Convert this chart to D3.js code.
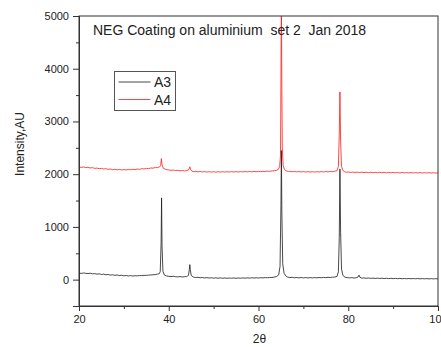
<!DOCTYPE html>
<html>
<head>
<meta charset="utf-8">
<script src="https://cdn.jsdelivr.net/npm/d3@7/dist/d3.min.js"></script>
<style>
  html, body { margin: 0; padding: 0; background: #fff; }
  svg { display: block; font-family: "Liberation Sans", Arial, sans-serif; }
</style>
</head>
<body>
<div id="chart"></div>
<script>
// --- Data (2θ in degrees, intensity in AU) ---

const seriesNames = ['A3', 'A4'];
const seriesColors = ['#1a1a1a', '#ff1a1a'];

const a3Points = [
  [20, 128], [20.5, 118], [21, 126], [21.5, 120], [22, 115], [22.5, 122], [23, 110], [23.5, 114],
  [24, 104], [24.5, 110], [25, 98], [25.5, 104], [26, 92], [26.5, 98], [27, 86], [27.5, 92],
  [28, 82], [28.5, 88], [29, 76], [29.5, 84], [30, 72], [30.5, 78], [31, 70], [31.5, 76],
  [32, 68], [32.5, 74], [33, 72], [33.5, 78], [34, 76], [34.5, 82], [35, 80], [35.5, 86],
  [36, 88], [36.5, 92], [37, 96], [37.5, 104], [37.9, 115], [38.1, 150], [38.3, 700], [38.4, 1550],
  [38.5, 650], [38.7, 160], [39, 90], [39.5, 70], [40, 62], [40.5, 58], [41, 64], [41.5, 56],
  [42, 52], [42.5, 58], [43, 50], [43.5, 56], [44, 58], [44.4, 80], [44.6, 200], [44.7, 285],
  [44.8, 190], [45, 80], [45.5, 48], [46, 40], [46.5, 44], [47, 36], [47.5, 40], [48, 32],
  [48.5, 38], [49, 30], [49.5, 36], [50, 28], [50.5, 34], [51, 27], [51.5, 33], [52, 26],
  [52.5, 32], [53, 25], [53.5, 31], [54, 26], [54.5, 32], [55, 25], [55.5, 31], [56, 27],
  [56.5, 33], [57, 28], [57.5, 34], [58, 29], [58.5, 35], [59, 30], [59.5, 36], [60, 31],
  [60.5, 37], [61, 33], [61.5, 39], [62, 36], [62.5, 42], [63, 40], [63.5, 48], [64, 58],
  [64.5, 90], [64.8, 250], [65.0, 1400], [65.1, 2450], [65.2, 1300], [65.4, 300], [65.7, 120], [66.2, 60],
  [66.5, 48], [67, 40], [67.5, 44], [68, 36], [68.5, 41], [69, 34], [69.5, 40], [70, 33],
  [70.5, 39], [71, 32], [71.5, 38], [72, 33], [72.5, 39], [73, 34], [73.5, 40], [74, 36],
  [74.5, 42], [75, 38], [75.5, 44], [76, 41], [76.5, 47], [77, 48], [77.5, 62], [77.8, 150],
  [78.0, 800], [78.15, 2100], [78.3, 900], [78.5, 200], [78.8, 80], [79.3, 45], [79.8, 38], [80.3, 33],
  [80.8, 38], [81.3, 31], [81.8, 36], [82.2, 52], [82.4, 85], [82.6, 46], [83, 28], [83.5, 33],
  [84, 26], [84.5, 31], [85, 24], [85.5, 29], [86, 23], [86.5, 28], [87, 22], [87.5, 27],
  [88, 21], [88.5, 26], [89, 20], [89.5, 25], [90, 19], [90.5, 24], [91, 18], [91.5, 23],
  [92, 17], [92.5, 22], [93, 17], [93.5, 22], [94, 16], [94.5, 21], [95, 16], [95.5, 21],
  [96, 15], [96.5, 20], [97, 15], [97.5, 20], [98, 14], [98.5, 19], [99, 14], [99.5, 18], [100, 14]
];

const a4Points = [
  [20, 2140], [20.5, 2128], [21, 2136], [21.5, 2125], [22, 2131], [22.5, 2118], [23, 2124], [23.5, 2110],
  [24, 2116], [24.5, 2104], [25, 2110], [25.5, 2098], [26, 2104], [26.5, 2092], [27, 2098], [27.5, 2086],
  [28, 2093], [28.5, 2082], [29, 2090], [29.5, 2080], [30, 2088], [30.5, 2080], [31, 2090], [31.5, 2082],
  [32, 2094], [32.5, 2086], [33, 2098], [33.5, 2092], [34, 2104], [34.5, 2098], [35, 2110], [35.5, 2104],
  [36, 2118], [36.5, 2114], [37, 2126], [37.5, 2124], [38, 2140], [38.2, 2160], [38.35, 2295], [38.5, 2180],
  [38.8, 2110], [39.2, 2096], [39.6, 2084], [40, 2080], [40.5, 2072], [41, 2078], [41.5, 2068], [42, 2074],
  [42.5, 2064], [43, 2070], [43.5, 2062], [44, 2068], [44.4, 2080], [44.6, 2115], [44.7, 2140], [44.85, 2090],
  [45.2, 2056], [45.6, 2048], [46, 2054], [46.5, 2044], [47, 2050], [47.5, 2042], [48, 2049], [48.5, 2040],
  [49, 2047], [49.5, 2040], [50, 2046], [50.5, 2039], [51, 2046], [51.5, 2040], [52, 2047], [52.5, 2040],
  [53, 2046], [53.5, 2041], [54, 2048], [54.5, 2041], [55, 2048], [55.5, 2042], [56, 2049], [56.5, 2043],
  [57, 2050], [57.5, 2044], [58, 2051], [58.5, 2045], [59, 2052], [59.5, 2046], [60, 2053], [60.5, 2048],
  [61, 2055], [61.5, 2050], [62, 2058], [62.5, 2054], [63, 2062], [63.5, 2064], [64, 2074], [64.4, 2090],
  [64.7, 2140], [64.9, 2350], [65.0, 3800], [65.1, 5400], [65.2, 3600], [65.3, 2500], [65.5, 2160], [65.8, 2090],
  [66.2, 2062], [66.7, 2050], [67, 2056], [67.5, 2046], [68, 2052], [68.5, 2043], [69, 2050], [69.5, 2042],
  [70, 2049], [70.5, 2041], [71, 2048], [71.5, 2040], [72, 2047], [72.5, 2040], [73, 2047], [73.5, 2041],
  [74, 2048], [74.5, 2042], [75, 2049], [75.5, 2044], [76, 2051], [76.5, 2048], [77, 2056], [77.5, 2066],
  [77.8, 2150], [78.0, 2750], [78.15, 3560], [78.3, 2620], [78.5, 2150], [78.8, 2070], [79.2, 2046], [79.6, 2036],
  [80, 2042], [80.5, 2033], [81, 2040], [81.5, 2032], [82, 2039], [82.5, 2031], [83, 2038], [83.5, 2030],
  [84, 2037], [84.5, 2029], [85, 2036], [85.5, 2028], [86, 2035], [86.5, 2027], [87, 2034], [87.5, 2027],
  [88, 2034], [88.5, 2026], [89, 2033], [89.5, 2026], [90, 2033], [90.5, 2025], [91, 2032], [91.5, 2025],
  [92, 2032], [92.5, 2024], [93, 2031], [93.5, 2024], [94, 2031], [94.5, 2023], [95, 2030], [95.5, 2023],
  [96, 2030], [96.5, 2022], [97, 2029], [97.5, 2022], [98, 2029], [98.5, 2021], [99, 2027], [99.5, 2021], [100, 2024]
];

const xTicks = [20, 40, 60, 80, 100];
const xMinorTicks = [30, 50, 70, 90];
const yTicks = [0, 1000, 2000, 3000, 4000, 5000];
const yMinorTicks = [-500, 500, 1500, 2500, 3500, 4500];

const titleText = 'NEG Coating on aluminium  set 2  Jan 2018';
const xLabel = '2θ';
const yLabel = 'Intensity,AU';

// --- Layout ---

const W = 441, H = 347;
const margin = { top: 16, right: 3, bottom: 41, left: 79 };
const innerW = W - margin.left - margin.right;
const innerH = H - margin.top - margin.bottom;

const svg = d3.select('#chart').append('svg')
  .attr('width', W)
  .attr('height', H)
  .attr('viewBox', `0 0 ${W} ${H}`);

const x = d3.scaleLinear().domain([20, 100]).range([0, innerW]);
const y = d3.scaleLinear().domain([-500, 5000]).range([innerH, 0]);

const g = svg.append('g').attr('transform', `translate(${margin.left},${margin.top})`);

g.append('defs').append('clipPath').attr('id', 'plot-clip')
  .append('rect').attr('width', innerW).attr('height', innerH);

// Series
const line = d3.line().x(d => x(d[0])).y(d => y(d[1]));
const lines = g.append('g').attr('clip-path', 'url(#plot-clip)');
[a3Points, a4Points].forEach((pts, i) => {
  lines.append('path')
    .datum(pts)
    .attr('fill', 'none')
    .attr('stroke', seriesColors[i])
    .attr('stroke-width', 0.8)
    .attr('stroke-linejoin', 'round')
    .attr('d', line);
});

// Frame
g.append('rect')
  .attr('width', innerW).attr('height', innerH)
  .attr('fill', 'none').attr('stroke', '#333').attr('stroke-width', 1);

// Axes
const styleAxis = sel => {
  sel.select('.domain').attr('stroke', '#333');
  sel.selectAll('.tick line').attr('stroke', '#333');
  sel.selectAll('.tick text').attr('fill', '#222').style('font-size', '11px')
    .style('font-family', '"Liberation Sans", Arial, sans-serif');
};

g.append('g').attr('transform', `translate(0,${innerH})`)
  .call(d3.axisBottom(x).tickValues(xMinorTicks).tickSize(3).tickFormat(''))
  .call(styleAxis);
g.append('g').attr('transform', `translate(0,${innerH})`)
  .call(d3.axisBottom(x).tickValues(xTicks).tickSize(5).tickPadding(4).tickFormat(d3.format('d')))
  .call(styleAxis);

g.append('g')
  .call(d3.axisLeft(y).tickValues(yMinorTicks).tickSize(3).tickFormat(''))
  .call(styleAxis);
g.append('g')
  .call(d3.axisLeft(y).tickValues(yTicks).tickSize(6).tickPadding(4).tickFormat(d3.format('d')))
  .call(styleAxis);

// Title inside plot
g.append('text')
  .attr('x', 14).attr('y', 19)
  .attr('fill', '#222')
  .style('font-size', '14px')
  .style('white-space', 'pre')
  .text(titleText);

// Axis labels
svg.append('text')
  .attr('x', margin.left + innerW / 2 + 1).attr('y', 343)
  .attr('text-anchor', 'middle')
  .attr('fill', '#222')
  .style('font-size', '12px')
  .text(xLabel);

svg.append('text')
  .attr('transform', `translate(24,${144}) rotate(-90)`)
  .attr('text-anchor', 'middle')
  .attr('fill', '#222')
  .style('font-size', '12px')
  .text(yLabel);

// Legend
const legend = svg.append('g').attr('transform', 'translate(114.5,71.5)');
legend.append('rect')
  .attr('width', 61).attr('height', 39)
  .attr('fill', '#fff').attr('stroke', '#555').attr('stroke-width', 1);
seriesNames.forEach((name, i) => {
  const ly = 10.5 + i * 17.5;
  legend.append('line')
    .attr('x1', 4).attr('x2', 36).attr('y1', ly).attr('y2', ly)
    .attr('stroke', seriesColors[i]).attr('stroke-width', 0.8);
  legend.append('text')
    .attr('x', 39.5).attr('y', ly + 5)
    .attr('fill', '#222')
    .style('font-size', '14px')
    .text(name);
});
</script>
</body>
</html>
